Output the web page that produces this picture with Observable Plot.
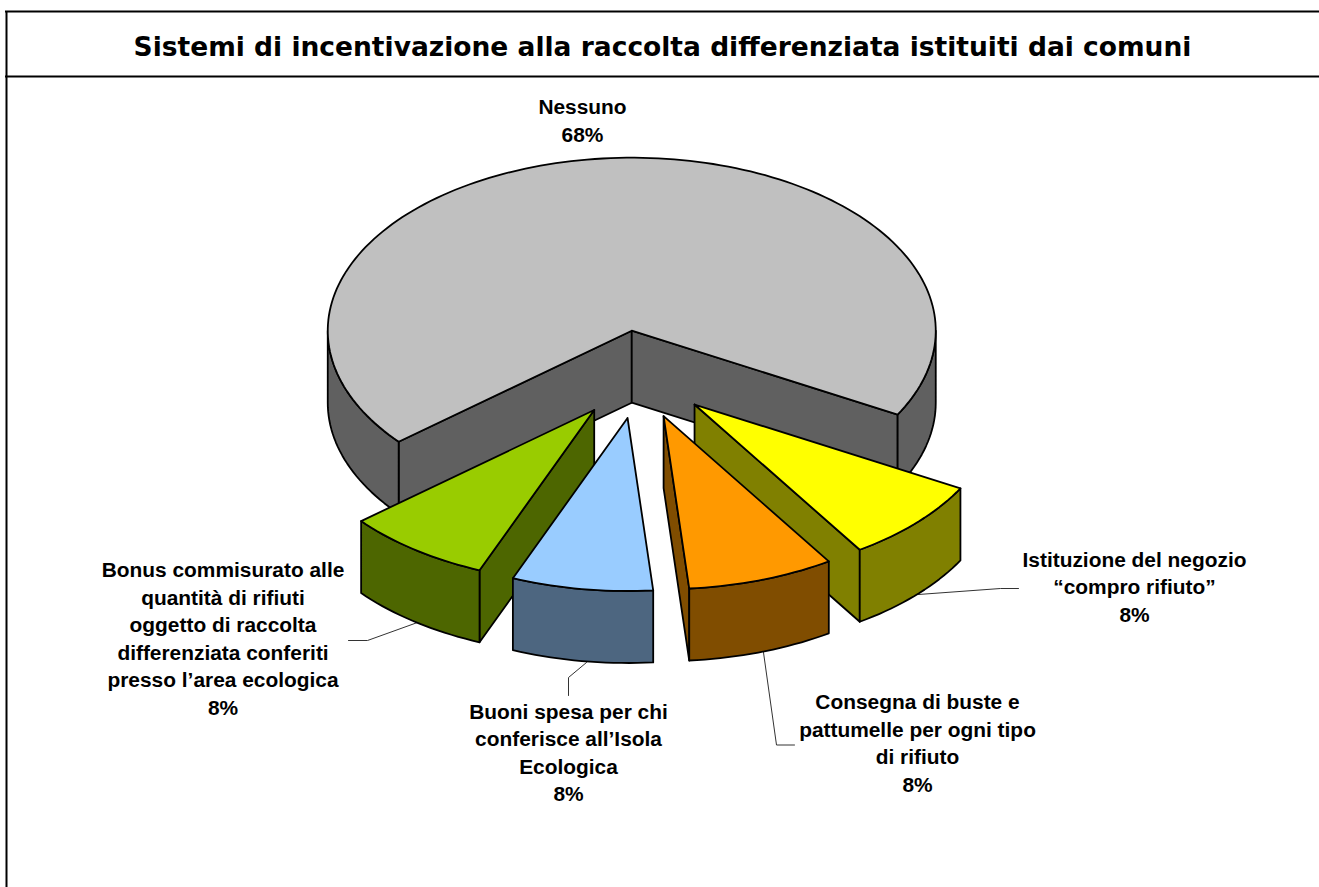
<!DOCTYPE html>
<html lang="it">
<head>
<meta charset="utf-8">
<script src="https://cdn.jsdelivr.net/npm/d3@7"></script>
<script src="https://cdn.jsdelivr.net/npm/@observablehq/plot@0.6"></script>
<style>
html,body{margin:0;padding:0;background:#fff;}
svg{display:block;}
</style>
</head>
<body>
<div id="chart"></div>
<script>
const title = "Sistemi di incentivazione alla raccolta differenziata istituiti dai comuni";
const categories = [
  "Nessuno",
  "Istituzione del negozio\n“compro rifiuto”",
  "Consegna di buste e\npattumelle per ogni tipo\ndi rifiuto",
  "Buoni spesa per chi\nconferisce all’Isola\nEcologica",
  "Bonus commisurato alle\nquantità di rifiuti\noggetto di raccolta\ndifferenziata conferiti\npresso l’area ecologica"
];
const percentLabels = ["68%", "8%", "8%", "8%", "8%"];
const shares = [69.15, 7.8, 7.8, 7.5, 7.75];
const topColors = ["#c0c0c0", "#ffff00", "#ff9900", "#99ccff", "#99cc00"];
const sideColors = ["#606060", "#808000", "#804d00", "#4d6680", "#4d6600"];

// layout
const W = 1319, H = 887;
const pie = {cx: 638.5, cy: 374, rx: 304, ry: 173, depth: 72, explodeX: 76, explodeY: 44, start: 29};
const drawOrder = [0, 1, 4, 2, 3];
const labelAt = [[582, 118.5], [1134, 585], [917, 741], [568, 750.5], [222.5, 636.5]];
const leaders = [
  null,
  [[918, 594], [1000, 588], [1018, 588]],
  [[763, 652], [776, 744.5], [794, 744.5]],
  [[586, 662], [568, 677], [568, 695]],
  [[417, 622], [367, 640], [348, 640]]
];

// slice angles (clockwise on screen), from the shares
const spans = [];
{
  // Nessuno wraps around the top: it ends where the first small slice starts
  let a = pie.start;
  for (let i = 1; i < shares.length; i++) {
    const b = a + shares[i] * 3.6;
    spans[i] = [a, b];
    a = b;
  }
  spans[0] = [a, pie.start + 360];
}

const rad = d => d * Math.PI / 180;
function centerOf(i) {
  const m = rad((spans[i][0] + spans[i][1]) / 2);
  return [pie.cx + pie.explodeX * Math.cos(m), pie.cy + pie.explodeY * Math.sin(m)];
}
function rim(i, deg, z = 0) {
  const [x, y] = centerOf(i);
  return [x + pie.rx * Math.cos(rad(deg)), y + pie.ry * Math.sin(rad(deg)) + z];
}
function arc(i, a0, a1, z = 0) {
  const n = Math.max(2, Math.ceil(Math.abs(a1 - a0) / 1.5));
  return d3.range(n + 1).map(k => rim(i, a0 + (a1 - a0) * k / n, z));
}
const closed = p => [...p, p[0]];
function poly(points, color) {
  return Plot.line(closed(points), {
    x: d => d[0], y: d => d[1], fill: color, stroke: "#000", strokeWidth: 1.8,
    strokeLinejoin: "round", curve: "linear"
  });
}
function sliceMarks(i) {
  const [a0, a1] = spans[i];
  const [cx, cy] = centerOf(i);
  const out = [];
  // radial faces that look towards the viewer
  const faces = [];
  if (Math.cos(rad(a0)) < 0) faces.push(a0);
  if (Math.cos(rad(a1)) > 0) faces.push(a1);
  for (const a of faces) {
    const p = rim(i, a), q = rim(i, a, pie.depth);
    out.push(poly([[cx, cy], p, q, [cx, cy + pie.depth]], sideColors[i]));
  }
  // outer wall, the parts facing the viewer
  for (const [lo, hi] of [[0, 180], [360, 540]]) {
    const s = Math.max(a0, lo), e = Math.min(a1, hi);
    if (s < e) out.push(poly([...arc(i, s, e), ...arc(i, e, s, pie.depth)], sideColors[i]));
  }
  // top
  out.push(poly([[cx, cy], ...arc(i, a0, a1)], topColors[i]));
  return out;
}

const labelRows = categories.map((c, i) => ({
  text: c + "\n" + percentLabels[i], x: labelAt[i][0], y: labelAt[i][1]
}));

const plot = Plot.plot({
  width: W, height: H,
  margin: 0,
  x: {domain: [0, W], range: [0, W], axis: null},
  y: {domain: [0, H], range: [0, H], axis: null},
  style: {background: "#fff"},
  marks: [
    // frame
    Plot.ruleX([6], {y1: 11, y2: H, stroke: "#000", strokeWidth: 2}),
    Plot.ruleY([11], {x1: 5, x2: W, stroke: "#000", strokeWidth: 2}),
    Plot.ruleY([76], {x1: 5, x2: W, stroke: "#000", strokeWidth: 2}),
    Plot.text([title], {
      x: () => 662, y: () => 47, text: d => d,
      fontFamily: "DejaVu Sans", fontWeight: "bold", fontSize: 26.5, fill: "#000", textAnchor: "middle"
    }),
    // leader lines
    ...leaders.filter(Boolean).map(l => Plot.line(l, {
      x: d => d[0], y: d => d[1], stroke: "#333", strokeWidth: 1, curve: "linear"
    })),
    // slices, back to front
    ...drawOrder.flatMap(sliceMarks),
    // labels
    Plot.text(labelRows, {
      x: "x", y: "y", text: "text",
      fontFamily: "Liberation Sans", fontWeight: "bold", fontSize: 20.9, lineHeight: 1.316,
      fill: "#000", textAnchor: "middle"
    })
  ]
});
document.getElementById("chart").append(plot);
</script>
</body>
</html>
